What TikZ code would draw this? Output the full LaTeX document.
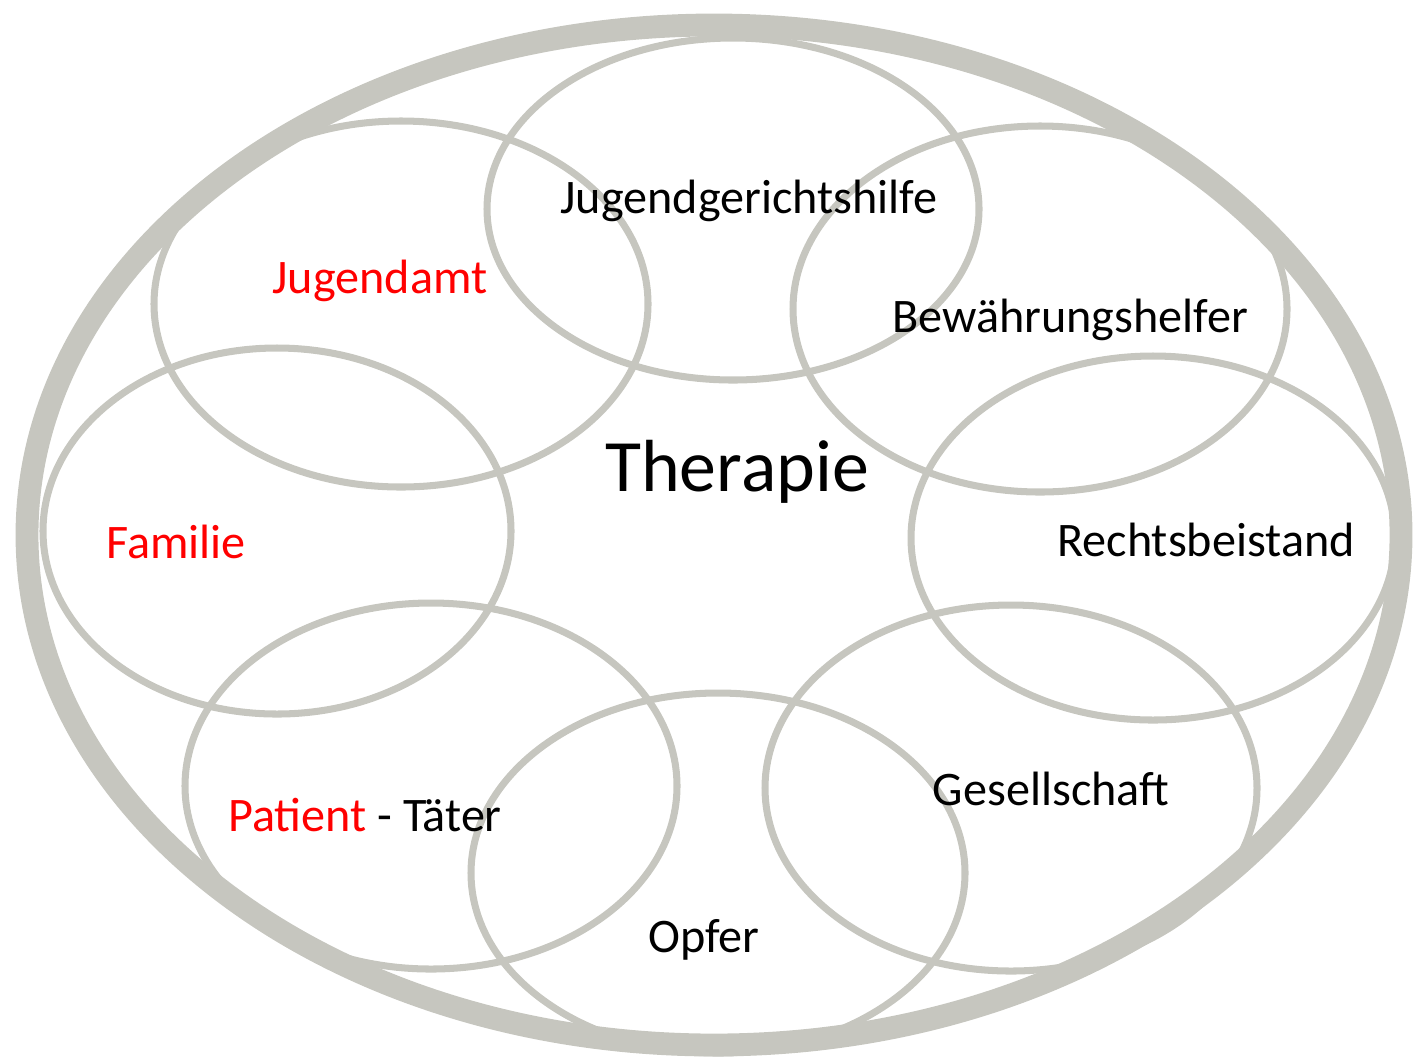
\documentclass[tikz,border=0pt]{standalone}
\usepackage{fontspec}
\setmainfont{Carlito}
\definecolor{ringgrey}{HTML}{C6C6BF}
\definecolor{agencyred}{HTML}{FF0000}

\tikzset{
  ring/.style={draw=ringgrey, line width=2pt},
  outerring/.style={draw=ringgrey, line width=6.5pt},
  role/.style={anchor=base, font=\fontsize{13.7}{16}\selectfont},
  redrole/.style={role, text=agencyred},
}

\begin{document}
\begin{tikzpicture}[x=0.01cm, y=-0.01cm]
        \useasboundingbox (0,0) rectangle (1416,1063);
        \draw[outerring] (714,535) ellipse [x radius=687, y radius=510];
        \draw[ring] (733,209) ellipse [x radius=246, y radius=171];
        \draw[ring] (401,304) ellipse [x radius=247, y radius=183];
        \draw[ring] (1040,309) ellipse [x radius=247, y radius=183];
        \draw[ring] (277,531) ellipse [x radius=234, y radius=183];
        \draw[ring] (1153,538) ellipse [x radius=242, y radius=182];
        \draw[ring] (431,786) ellipse [x radius=246, y radius=183];
        \draw[ring] (1011,788) ellipse [x radius=246, y radius=183];
        \draw[ring] (718,873) ellipse [x radius=247, y radius=180];
        \node[role] (jgh) at (749,213) {Jugendgerichtshilfe};
        \node[redrole] (amt) at (380,293) {Jugendamt};
        \node[role] (bew) at (1070,332) {Bewährungshelfer};
        \node[anchor=base, font=\fontsize{21}{25}\selectfont] (ther) at (737,491) {Therapie};
        \node[redrole] (fam) at (176,558) {Familie};
        \node[role] (recht) at (1206,556) {Rechtsbeistand};
        \node[role] (pat) at (365,831) {\textcolor{agencyred}{Patient} - Täter};
        \node[role] (ges) at (1051,805) {Gesellschaft};
        \node[role] (opf) at (704,952) {Opfer};
\end{tikzpicture}
\end{document}
